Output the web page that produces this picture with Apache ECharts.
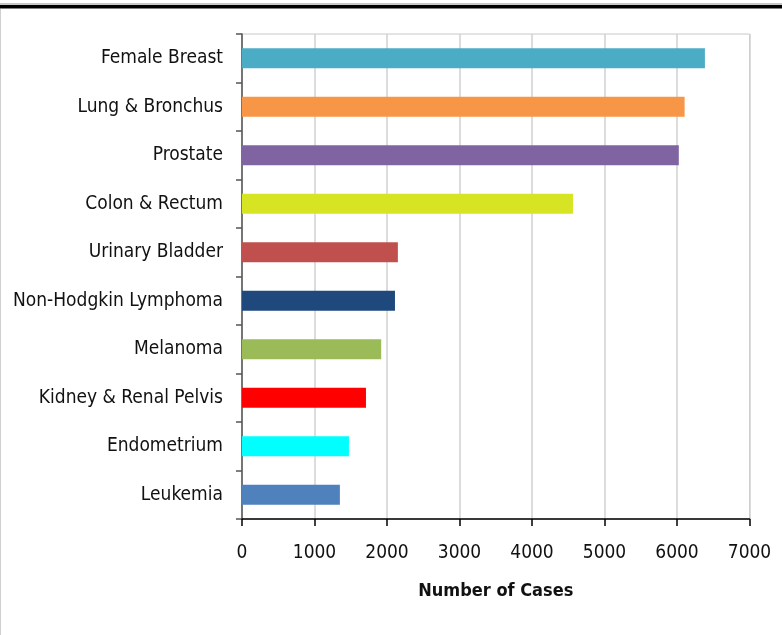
<!DOCTYPE html>
<html>
<head>
<meta charset="utf-8">
<script src="https://cdn.jsdelivr.net/npm/echarts@6/dist/echarts.min.js"></script>
<style>
html,body{margin:0;padding:0;background:#fff;}
#chart{width:782px;height:635px;}
</style>
</head>
<body>
<div id="chart"></div>
<script>
const categories = ["Female Breast","Lung & Bronchus","Prostate","Colon & Rectum","Urinary Bladder","Non-Hodgkin Lymphoma","Melanoma","Kidney & Renal Pelvis","Endometrium","Leukemia"];
const cases = [6385, 6105, 6025, 4565, 2150, 2110, 1920, 1710, 1475, 1350];
const barColors = ["#4BACC6","#F79646","#8064A2","#D7E423","#C0504D","#1F497D","#9BBB59","#FF0000","#00FFFF","#4F81BD"];
const xTicks = [0,1000,2000,3000,4000,5000,6000,7000];
const xTitle = "Number of Cases";

const FONT = '"DejaVu Sans Condensed","Liberation Sans Narrow",sans-serif';
const chart = echarts.init(document.getElementById('chart'), null, {renderer:'canvas'});
chart.setOption({
  animation:false,
  backgroundColor:'#ffffff',
  grid:{left:242,right:32.5,top:34,bottom:116,containLabel:false,outerBoundsMode:'none',show:true,borderColor:'#c8c8c8',borderWidth:1,backgroundColor:'transparent'},
  xAxis:{
    type:'value',min:xTicks[0],max:xTicks[xTicks.length-1],interval:1000,
    axisLine:{show:true,lineStyle:{color:'#000',width:1.5}},
    axisTick:{show:true,length:7,lineStyle:{color:'#000',width:1.5}},
    splitLine:{show:true,lineStyle:{color:'#d0d0d0',width:1.5}},
    axisLabel:{color:'#111',fontFamily:FONT,fontSize:19,margin:25,formatter:v=>String(v)},
    name:xTitle,nameLocation:'middle',nameGap:63,
    nameTextStyle:{color:'#111',fontFamily:FONT,fontSize:18,fontWeight:'bold'}
  },
  yAxis:{
    type:'category',data:categories,inverse:true,
    axisLine:{show:true,lineStyle:{color:'#555',width:1.5}},
    axisTick:{show:true,length:6,lineStyle:{color:'#555',width:1.5},alignWithLabel:false},
    axisLabel:{color:'#111',fontFamily:FONT,fontSize:19,margin:19},
    splitLine:{show:false}
  },
  series:[{
    type:'bar',barWidth:20,
    data:cases.map((v,i)=>({value:v,itemStyle:{color:barColors[i]}}))
  }],
  graphic:[
    {type:'rect',shape:{x:0,y:3,width:782,height:2},style:{fill:'#c8c8c8'},silent:true},
    {type:'rect',shape:{x:0,y:5,width:782,height:3.5},style:{fill:'#000'},silent:true},
    {type:'rect',shape:{x:0,y:9,width:1,height:626},style:{fill:'#d0d0d0'},silent:true}
  ]
});
</script>
</body>
</html>
